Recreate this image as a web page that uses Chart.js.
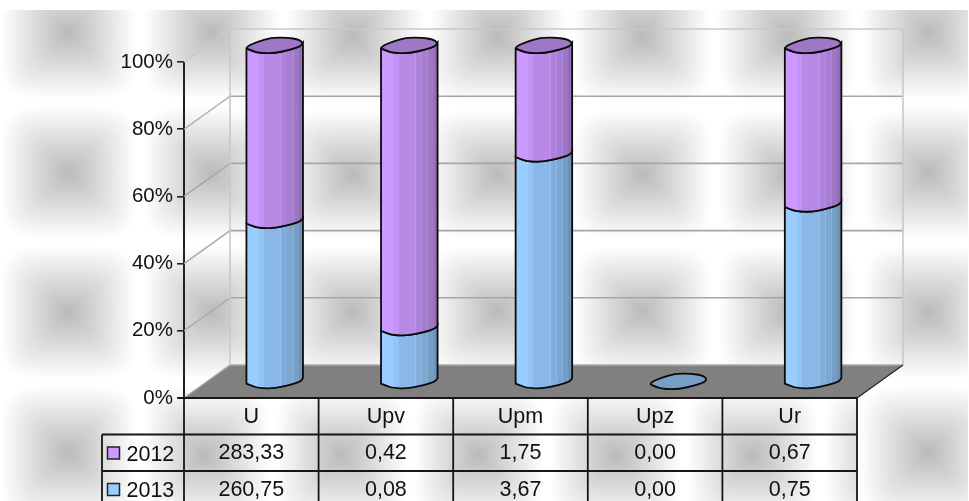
<!DOCTYPE html>
<html><head><meta charset="utf-8">
<style>html,body{margin:0;padding:0;background:#fff}canvas{display:block}</style>
<script src="https://cdn.jsdelivr.net/npm/chart.js@4"></script>
</head><body><div style="width:969px;height:501px"><canvas id="c" width="969" height="501"></canvas></div>
<script>
const categories = ['U','Upv','Upm','Upz','Ur'];
const series2012 = [283.33,0.42,1.75,0.00,0.67];
const series2013 = [260.75,0.08,3.67,0.00,0.75];
const percentTicks = [0,20,40,60,80,100];
const purple=[204,153,255], blue=[153,204,255];
const pct=(a,b)=>a.map((v,i)=>(a[i]+b[i])>0?v/(a[i]+b[i])*100:0);
const fmt=v=>v.toFixed(2).replace('.',',');
const FONT='"Liberation Sans", Arial, sans-serif';
const DEPTH={x:46,y:-33};

// tiled grey background: square "pyramid" gradient tiles, with separate tile phases on wall and table
function makeBg(){
  const W=969,H=501;
  const cv=document.createElement('canvas');cv.width=W;cv.height=H;
  const g=cv.getContext('2d');const id=g.createImageData(W,H);
  function tile(x,y,cx,cy,Tx,Ty){
    let dx=Math.abs(((x-cx)%Tx+Tx*1.5)%Tx-Tx/2)/(Tx/2);
    let dy=Math.abs(((y-cy)%Ty+Ty*1.5)%Ty-Ty/2)/(Ty/2);
    let d=Math.pow(Math.pow(dx,5)+Math.pow(dy,5),1/5);
    d=Math.min(1,d*1.05);
    return 186+69*d;
  }
  for(let y=0;y<H;y++)for(let x=0;x<W;x++){
    let v;
    if(y<10||x<3||x>=968) v=255;
    else if(x>=230&&x<=902&&y>=28&&y<=365) v=tile(x,y,642,174,145,137);
    else if(x>=184&&x<=857&&y>=398) v=tile(x,y,478,455,137,140);
    else v=tile(x,y,68,172,143.3,140);
    const k=(y*W+x)*4;id.data[k]=id.data[k+1]=id.data[k+2]=v;id.data[k+3]=255;
  }
  g.putImageData(id,0,0);return cv;
}
const bgImage=makeBg();

const capShape=[[-28.2,3],[-27,0.7],[-17.5,-3.7],[-4,-7.7],[12.5,-8],[24,-6],[28.2,-2.7],[26,0.7],[16,4],[-1,8],[-16,7.3],[-22.5,5.3]];
const lowerEdge=[[28.2,-2.7],[26,0.7],[16,4],[-1,8],[-16,7.3],[-22.5,5.3],[-28.2,3]];
const scaleShape=(pts,cx,cy,w)=>pts.map(p=>[cx+p[0]*w/56.4,cy+p[1]]);
function rgb(c,f){return `rgb(${Math.round(c[0]*f)},${Math.round(c[1]*f)},${Math.round(c[2]*f)})`;}
function bodyGrad(ctx,x,w,c){
  const stops=[[0,.22,1],[.22,.31,.96],[.31,.6,.9],[.6,.62,.95],[.62,.71,.85],[.71,.725,.9],[.725,.82,.82],[.82,.835,.87],[.835,.93,.77],[.93,1,.72]];
  const g=ctx.createLinearGradient(x,0,x+w,0);
  stops.forEach(s=>{g.addColorStop(s[0],rgb(c,s[2]));g.addColorStop(s[1],rgb(c,s[2]));});
  return g;
}
function smoothTo(ctx,pts){
  for(let i=1;i<pts.length-1;i++){
    const mx=(pts[i][0]+pts[i+1][0])/2,my=(pts[i][1]+pts[i+1][1])/2;
    ctx.quadraticCurveTo(pts[i][0],pts[i][1],mx,my);
  }
  const l=pts[pts.length-1];ctx.lineTo(l[0],l[1]);
}
function capPath(ctx,cx,cy,w){
  const pts=scaleShape(capShape,cx,cy,w);const n=pts.length;
  ctx.beginPath();
  ctx.moveTo((pts[n-1][0]+pts[0][0])/2,(pts[n-1][1]+pts[0][1])/2);
  for(let i=0;i<n;i++){const a=pts[i],b=pts[(i+1)%n];ctx.quadraticCurveTo(a[0],a[1],(a[0]+b[0])/2,(a[1]+b[1])/2);}
  ctx.closePath();
}
function drawBody(ctx,cx,top,bot,w,c){
  const up=scaleShape(lowerEdge,cx,top,w), low=scaleShape(lowerEdge,cx,bot,w);
  ctx.beginPath();
  ctx.moveTo(up[0][0],up[0][1]);
  smoothTo(ctx,up);
  ctx.lineTo(low[low.length-1][0],low[low.length-1][1]);
  const rev=low.slice().reverse();
  smoothTo(ctx,rev);
  ctx.closePath();
  ctx.fillStyle=bodyGrad(ctx,cx-w/2,w,c);ctx.fill();
  ctx.lineWidth=1.8;ctx.strokeStyle='#0a0a0a';ctx.stroke();
}

const chartPlugin={
  id:'excel3d',
  beforeDraw(chart){
    chart.ctx.drawImage(bgImage,0,0);
  },
  beforeDatasetsDraw(chart){
    const ctx=chart.ctx, y=chart.scales.y, x=chart.scales.x;
    const L=x.left,R=x.right,B=y.bottom;
    ctx.save();ctx.lineCap='butt';
    percentTicks.forEach(t=>{
      const py=y.getPixelForValue(t);
      const top=t===100, zero=t===0;
      ctx.strokeStyle=top?'#c9c9c9':'#a6a6a6';ctx.lineWidth=top?1.5:1.6;
      if(!zero){
        ctx.beginPath();ctx.moveTo(L+DEPTH.x,py+DEPTH.y);ctx.lineTo(R+DEPTH.x,py+DEPTH.y);ctx.stroke();
        ctx.lineWidth=1.3;
        ctx.beginPath();ctx.moveTo(L,py);ctx.lineTo(L+DEPTH.x,py+DEPTH.y);ctx.stroke();
      }
    });
    ctx.strokeStyle='#c9c9c9';ctx.lineWidth=1.6;
    const topY=y.getPixelForValue(100)+DEPTH.y, floorY=B+DEPTH.y;
    [L+DEPTH.x,R+DEPTH.x].forEach(px=>{ctx.beginPath();ctx.moveTo(px,topY);ctx.lineTo(px,floorY);ctx.stroke();});
    ctx.fillStyle='#808080';
    ctx.beginPath();ctx.moveTo(L,B);ctx.lineTo(R,B);ctx.lineTo(R+DEPTH.x,floorY);ctx.lineTo(L+DEPTH.x,floorY);ctx.closePath();ctx.fill();
    ctx.strokeStyle='#ababab';ctx.lineWidth=1.5;
    ctx.beginPath();ctx.moveTo(L,B);ctx.lineTo(L+DEPTH.x,floorY);ctx.lineTo(R+DEPTH.x,floorY);ctx.stroke();
    ctx.strokeStyle='#222';ctx.lineWidth=1.2;
    ctx.beginPath();ctx.moveTo(R,B);ctx.lineTo(R+DEPTH.x,floorY);ctx.stroke();
    const ox=DEPTH.x/2+0.4, oy=DEPTH.y/2;
    const colors=[blue,purple];
    const metas=[chart.getDatasetMeta(0),chart.getDatasetMeta(1)];
    categories.forEach((_,i)=>{
      let topEl=null,topC=colors[0];
      metas.forEach((m,d)=>{
        const el=m.data[i];
        if(Math.abs(el.base-el.y)>0.01){
          drawBody(ctx,el.x+ox,el.y+oy,el.base+oy,el.width,colors[d]);
          topEl=el;topC=colors[d];
        }
      });
      const e=topEl||metas[0].data[i];
      capPath(ctx,e.x+ox,e.y+oy,e.width);
      ctx.fillStyle=rgb(topC,.78);ctx.fill();
      ctx.lineWidth=1.8;ctx.strokeStyle='#0a0a0a';ctx.stroke();
    });
    ctx.restore();
    return false;
  },
  afterDraw(chart){
    const ctx=chart.ctx, x=chart.scales.x, y=chart.scales.y;
    const L=x.left,R=x.right,B=y.bottom;
    const colW=(R-L)/categories.length;
    const rowY=[B+36.5,B+73], end=chart.height, keyL=102;
    ctx.save();
    ctx.strokeStyle='#161616';ctx.lineWidth=1.8;
    ctx.beginPath();
    ctx.moveTo(L-6,B);ctx.lineTo(R,B);
    rowY.forEach(r=>{ctx.moveTo(keyL,r);ctx.lineTo(R,r);});
    for(let i=0;i<=categories.length;i++){ctx.moveTo(L+i*colW,B);ctx.lineTo(L+i*colW,end);}
    ctx.moveTo(keyL,rowY[0]);ctx.lineTo(keyL,end);
    ctx.stroke();
    ctx.font='21.5px '+FONT;ctx.textBaseline='middle';
    const rows=[['2012',series2012,purple],['2013',series2013,blue]];
    rows.forEach((r,k)=>{
      const cy=rowY[k]+18.5;
      ctx.fillStyle='#111';
      ctx.textAlign='center';
      r[1].forEach((v,i)=>ctx.fillText(fmt(v),L+(i+.5)*colW,cy+0.5));
      ctx.textAlign='left';
      ctx.fillText(r[0],126.5,cy+2);
      ctx.fillStyle=rgb(r[2],1);ctx.strokeStyle='#222';ctx.lineWidth=1.5;
      ctx.fillRect(107.5,cy-6,12,12);ctx.strokeRect(107.5,cy-6,12,12);
    });
    ctx.restore();
  }
};

new Chart(document.getElementById('c'),{
  type:'bar',
  data:{labels:categories,datasets:[
    {label:'2013',data:pct(series2013,series2012),backgroundColor:rgb(blue,1)},
    {label:'2012',data:pct(series2012,series2013),backgroundColor:rgb(purple,1)}
  ]},
  options:{
    responsive:false,animation:false,
    layout:{padding:{left:0,top:62,right:112,bottom:0}},
    datasets:{bar:{barPercentage:0.42,categoryPercentage:1}},
    plugins:{legend:{display:false},tooltip:{enabled:false},title:{display:false}},
    scales:{
      x:{stacked:true,
        afterFit(s){s.height=103;},
        grid:{display:false,drawTicks:false,tickLength:0},border:{display:false},
        ticks:{font:{family:FONT,size:21.5},color:'#111',padding:6,maxRotation:0}},
      y:{stacked:true,min:0,max:100,
        afterFit(s){s.width=184;},
        afterBuildTicks(s){s.ticks=percentTicks.map(v=>({value:v}));},
        grid:{drawOnChartArea:false,color:'#222',tickLength:7,lineWidth:1.6},
        border:{color:'#222',width:2},
        ticks:{font:{family:FONT,size:20.5},color:'#111',padding:4,callback:v=>v+'%'}}
    }
  },
  plugins:[chartPlugin]
});
</script></body></html>
